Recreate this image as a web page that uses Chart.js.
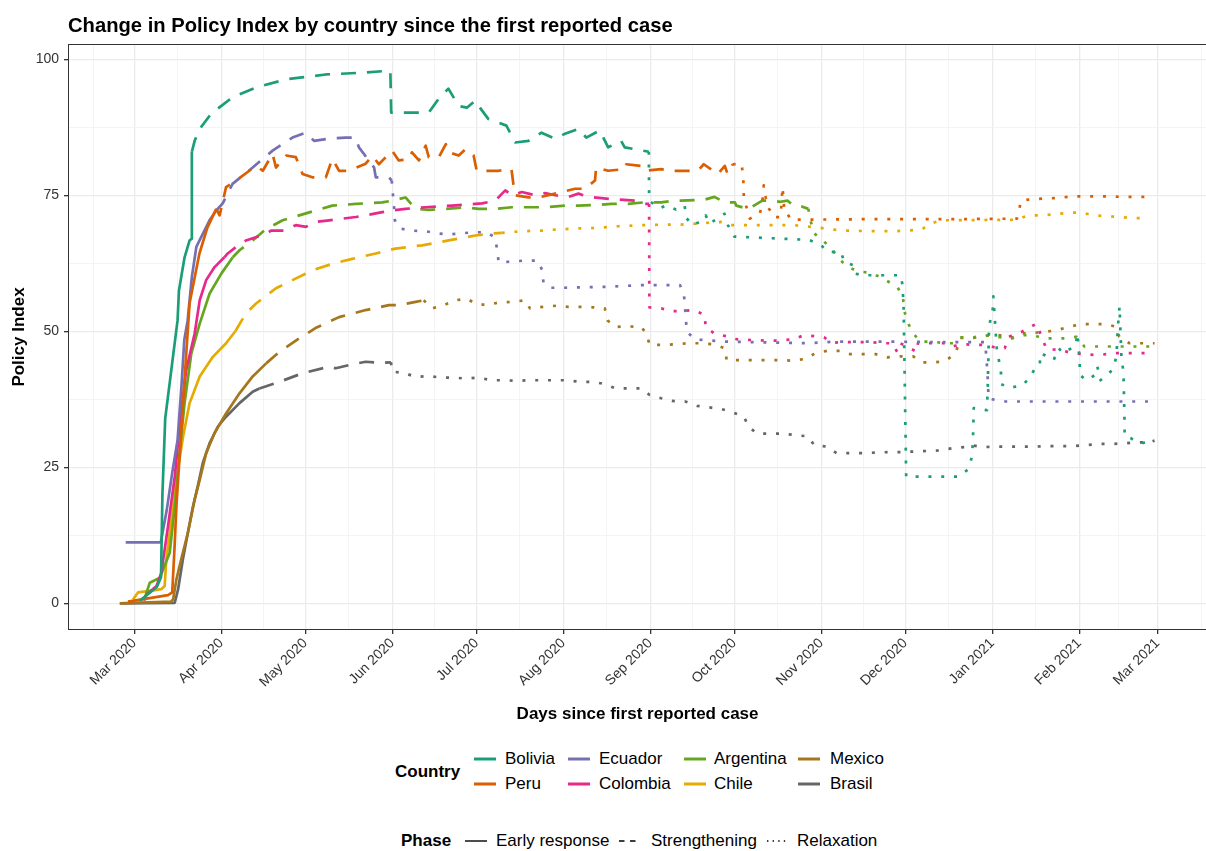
<!DOCTYPE html>
<html>
<head>
<meta charset="utf-8">
<title>Policy Index by country</title>
<script src="https://cdn.jsdelivr.net/npm/chart.js@4.4.1/dist/chart.umd.min.js"></script>
<style>
  html, body { margin: 0; padding: 0; background: #fff; overflow: hidden; }
  body { font-family: "Liberation Sans", Arial, Helvetica, sans-serif; color: #000; }
  #wrap { position: relative; width: 1206px; height: 851px; overflow: hidden; }
  #chart { position: absolute; left: 0; top: 0; }
  #title { position: absolute; left: 68px; top: 14.5px; font-size: 20.2px; line-height: 20px; font-weight: bold; white-space: nowrap; }
  .lg { position: absolute; font-size: 17px; line-height: 20px; white-space: nowrap; }
  .lg.b { font-weight: bold; }
  .key { position: absolute; }
</style>
</head>
<body>
<div id="wrap">
  <canvas id="chart" width="1214" height="740"></canvas>
  <div id="title">Change in Policy Index by country since the first reported case</div>
  <div id="legend"></div>
</div>
<script>
// ---- categories -------------------------------------------------------
const countries = ['Bolivia', 'Peru', 'Ecuador', 'Colombia', 'Argentina', 'Chile', 'Mexico', 'Brasil'];
const phases = ['Early response', 'Strengthening', 'Relaxation'];

// ---- x axis: days counted from 1 Mar 2020, ticks at the first of each month
const monthStartDays = [0, 31, 61, 92, 122, 153, 184, 214, 245, 275, 306, 337, 365];
const monthLabels = ['Mar 2020', 'Apr 2020', 'May 2020', 'Jun 2020', 'Jul 2020', 'Aug 2020',
  'Sep 2020', 'Oct 2020', 'Nov 2020', 'Dec 2020', 'Jan 2021', 'Feb 2021', 'Mar 2021'];
const monthMidDays = [-14.5, 15.5, 46, 76.5, 107, 137.5, 168.5, 199, 229.5, 260, 290.5, 321.5, 351, 380.5];

// ---- y axis
const yMajorTicks = [0, 25, 50, 75, 100];
const yMinorTicks = [12.5, 37.5, 62.5, 87.5];

// ---- series: [day, index] per country and phase -------------------------
const boliviaEarly = [[2,0.5],[8,3],[9.5,4.8],[10,20],[11,34],[13.2,43],[15.4,52],[15.9,57.5],[17.9,63.6],[19.7,66.7],[20.4,67],[20.5,83]];
const boliviaStrength = [[20.5,83],[21.5,85],[23.3,87.2],[27.4,90],[35,93],[43.4,94.8],[54,96.3],[68.3,97.2],[80.1,97.5],[91.3,97.9],[91.6,90.2],[105,90.2],[108.9,93],[112,94.6],[115.7,91.4],[118.6,91.1],[121.6,92.4],[122.8,91.4],[126.3,89],[132.7,87.8],[135.8,84.7],[140.6,85],[145.2,86.5],[150,85.4],[153.6,86.3],[158.4,87.2],[161.2,85.6],[166,86.9],[169,83.8],[173.6,85],[174.9,83.8],[183.5,83]];
const boliviaRelax = [[183.5,83],[183.6,74],[187.4,72.6],[189.6,73.1],[193.2,72.4],[196.3,73.1],[196.7,70.9],[199.2,69.5],[202.8,70.4],[203.8,71.3],[205.2,69.8],[210.5,71.6],[211.7,69.5],[214,67.4],[240.7,66.8],[245,65.8],[247.3,64.6],[252,64.6],[252.6,63.7],[253.2,62.8],[256.6,62.1],[257.2,60.6],[259.5,60.3],[273.3,60.3],[274,58.5],[274.4,54],[275.3,23.3],[294.2,23.3],[297.3,24.6],[298.7,26.8],[299.1,29.7],[299.4,35.9],[304.1,35.5],[304.4,39.8],[304.8,49.6],[305.2,51.7],[306.2,54.2],[306.4,56.4],[307.6,46.9],[309.1,42.6],[309.1,40.3],[312.3,39.6],[316.9,40.1],[319.7,41.7],[321.5,43.5],[322.9,43.8],[323.3,46],[327.9,44.7],[329.7,46.9],[331.1,46],[335.7,47.3],[336.4,49.6],[337.2,44.5],[337.2,42],[339.6,41],[342.8,42],[343.5,43.5],[344.6,41],[348.9,42.9],[350.3,45.3],[350.7,49.9],[351.4,54.6],[352.1,45],[352.8,42.6],[353.2,33.2],[353.2,30.7],[355.3,30.4],[357.4,29.7],[359.9,29.5],[362,29.7],[363.8,30]];

const peruEarly = [[-2.3,0.3],[6,1],[12,1.5],[13.5,2],[14.3,10],[15,18],[16.5,30],[18,42],[19.7,55.2],[23.2,64.3],[26,69],[29.2,72.5]];
const peruStrength = [[29.2,72.5],[30.4,71.3],[32.7,76.5],[36.3,77.7],[41,79.5],[43.4,80.4],[45.8,79.5],[49.3,82.6],[50.5,80.1],[54.1,82.3],[57.6,82],[60,78.9],[63.5,78.3],[68.3,78.3],[70.6,81.7],[73,79.5],[76.6,79.5],[82.5,80.8],[84.9,82.3],[87.2,80.7],[90.8,82.6],[91.9,83.2],[94.3,81.4],[97.9,81.6],[99,82.9],[101.5,81.4],[103.9,84.1],[105,82],[108.6,82],[111.1,84.4],[112.1,82.9],[115.7,82.3],[118.2,83.5],[121,82.3],[122.1,79.5],[129.9,79.5],[134.5,79.8],[135.2,77],[135.9,75],[140.6,74.6],[144.1,74.6],[150.1,75.3],[157.2,76.2],[160.7,76.2],[164.3,77.7],[164.7,80.1],[169,79.5],[174.9,79.8],[175.4,80.7],[180.8,80.4],[182,79.5],[187.9,79.8],[191.5,79.5],[197.6,79.5],[201,79.5],[203.1,80.7],[205.6,79.8],[208.1,78.9],[210.6,80.4],[211.6,78.9],[213.4,80.7]];
const peruRelax = [[213.4,80.7],[216.6,80.8],[217.2,78],[217.4,74.5],[219.5,70.7],[223,71.6],[223.8,72.8],[224.5,76.8],[225.2,74.6],[225.9,72.8],[227.3,71.9],[228,71],[230.5,71],[231.2,76.5],[231.9,71.9],[233,71.6],[234.1,70.5],[260,70.6],[290,70.6],[314.8,70.7],[315.4,71.6],[316.2,74],[320.4,74.3],[329.7,74.5],[334.3,74.8],[347.8,74.8],[352.4,74.7],[362,74.7]];

const ecuadorEarly = [[-3.1,11.2],[9.4,11.2],[11.5,17],[13.5,24],[15.4,30],[16.8,40],[17.8,48.4],[19,52],[20.5,60],[22.1,65.5],[26.8,70.4],[29.2,72.2]];
const ecuadorStrength = [[29.2,72.2],[31.5,73.5],[35,77.1],[42.2,80.1],[49.3,83.2],[56.4,85.6],[61.2,86.5],[64.1,85],[69.4,85.4],[75.4,85.6],[78.9,85.6],[80.1,83.8],[85.5,80.1],[86.1,78.3],[90.8,78.3],[91.8,77.7]];
const ecuadorRelax = [[91.8,77.7],[92.2,75.3],[92.6,73.1],[92.9,70.4],[94.7,68.9],[99,68.5],[103.6,68.4],[108.2,68],[111.8,67.8],[116.4,68],[121,68.2],[125.6,68.2],[128.5,67.3],[129.5,64.9],[129.9,62.7],[134.5,62.8],[139.1,63],[143.8,63],[145.5,61.2],[145.9,59],[148.4,58],[153,58],[170,58.2],[180.7,58.5],[185,58.5],[190,58.5],[194.6,58.5],[196,56.9],[196.4,54.6],[196.7,52.2],[197.1,49.9],[200,48.5],[211,48.1],[240,47.8],[250,48.1],[270,48.1],[290,48],[303.5,48],[304.3,42.3],[304.7,37.6],[310.8,37.1],[361.6,37.1]];

const colombiaEarly = [[3.5,0.5],[4.3,1.6],[7.9,3.2],[9.6,5.6],[12,14.2],[14.4,23.3],[16.1,32.5],[18.5,42.9],[21.5,49.6],[23.3,55.7],[25.6,59.4],[28.6,61.8],[32.1,63.6]];
const colombiaStrength = [[32.1,63.6],[33.3,64.3],[36.3,65.5],[39.8,66.7],[47,67.9],[48.7,68.5],[53.5,68.5],[57.6,69.5],[61.2,69.2],[64.7,70.1],[69.5,70.4],[74.2,70.7],[79,71],[82.5,71.3],[88.4,71.9],[91.9,72.2],[96.7,72.5],[103.8,72.8],[113.3,73.1],[121.6,73.4],[124,73.5],[128.7,74],[132.3,75.9],[134.6,75],[138.2,75.6],[143,75],[146.5,75.4],[150.1,75],[154.8,74.7],[158.4,75.3],[161.9,74.7],[170.2,74.3],[178.5,74],[182,73.4],[183.6,73.4]];
const colombiaRelax = [[183.6,73.4],[183.7,54.4],[188,54.2],[191.8,53.7],[195.1,53.7],[199.5,53.9],[203.4,53],[203.8,50.7],[206.9,49.6],[211.1,49.1],[215.2,48.5],[219.8,48.4],[224.7,48.3],[228.7,48.3],[234.8,48.5],[239,49.3],[246,48.9],[249,47.9],[252.5,48],[257.9,48],[263.2,48],[266.8,47.8],[270.3,47.8],[272.1,46.2],[273.2,47.8],[279.2,46.2],[279.5,47.8],[284.5,47.8],[289.5,47.8],[291.6,47.2],[295.2,47.6],[302.3,47.5],[305.8,47.2],[307.6,46.9],[310.5,46.9],[311.9,49],[316.5,49.9],[321.8,51.4],[323.6,49],[325.4,46.7],[330,46.6],[334.3,46],[343.2,45.6],[350.3,46],[363.5,46]];

const argentinaEarly = [[3.7,1],[5.5,3.8],[9.1,4.7],[12.6,9.3],[14.4,17.8],[16.1,27.6],[17.9,36.8],[20.3,45.9],[23.3,51.4],[26.8,56.9],[31,60.6],[35.1,63.6]];
const argentinaStrength = [[35.1,63.6],[37.5,64.9],[42.2,66.7],[47,68.8],[52.9,70.4],[58.8,71.3],[64.7,72.2],[70.6,73.1],[79,73.4],[88.4,73.7],[91.9,74],[94.3,74.3],[96.7,74.6],[100.3,72.5],[105,72.3],[110.9,72.5],[118,72.8],[122.8,72.5],[128.7,72.5],[134.6,72.8],[140.6,72.8],[146.5,72.8],[153.6,73.1],[158.4,73.1],[164.3,73.2],[170.2,73.4],[176.1,73.4],[182,73.7],[187.9,73.7],[192.7,74],[194.9,74],[203.4,74.2],[206.9,74.7],[210.6,73.7],[214.2,73.7],[214.7,73.1],[218.9,72.5],[220,72.8],[224,74],[227.6,74],[230.5,73.8],[233,74],[235.1,73.1],[238.3,72.9],[240.4,72.5]];
const argentinaRelax = [[240.4,72.5],[241.2,70.3],[242.5,68],[246,66.5],[249,65],[251,63.5],[254,62],[258,61],[262,60.8],[266,60],[269,59.1],[272.1,58.2],[274.2,56.3],[274.4,54.2],[275.6,52],[277.4,49.9],[280.3,48.1],[284.5,48.1],[289.2,47.8],[292.2,47.8],[294.5,48.9],[299.4,48.9],[302.3,49.1],[305.3,49.3],[308.7,48.9],[313,48.7],[317.1,49.3],[320.6,49.3],[324.2,48.7],[331.9,48.7],[336,49],[338.9,47.2],[351.9,47.2],[362,47.2]];

const chileEarly = [[-0.5,0.7],[1.3,2],[5.5,2.3],[9.6,2.6],[10.8,3.2],[11.4,8.1],[12.6,13],[13.8,18.5],[15.5,24.6],[17.4,30.7],[19.7,36.8],[23.3,41.7],[28,45.3],[32.7,47.8],[36,50]];
const chileStrength = [[36,50],[39.8,53.3],[43.4,55.1],[50.5,57.9],[56.4,59.4],[63.5,61.2],[70.6,62.4],[77.7,63.3],[86.1,64.3],[93.1,65.2],[102.6,65.8],[112.1,66.7],[121.6,67.6],[126.3,67.9],[131,68.1]];
const chileRelax = [[131,68.1],[138.2,68.4],[145.3,68.5],[150.1,68.7],[158.4,68.9],[165.4,69],[172.5,69.3],[180.8,69.5],[187.9,69.6],[194.9,69.6],[209.3,70.1],[212.8,69.5],[218.8,69.5],[227,69.5],[235.4,69.5],[244.8,69],[249,68.7],[253.7,68.5],[262.6,68.4],[272.1,68.4],[280.9,68.7],[283.8,69.8],[288.1,70.4],[314.8,70.5],[318.7,71.3],[323.3,71.3],[328.5,71.5],[333.1,71.8],[337.7,71.8],[342.4,71.3],[351.4,71],[355.6,70.8],[360.5,70.8]];

const mexicoEarly = [[-5.2,0],[13,0.3],[13.8,0.7],[15,4.4],[16.7,8.1],[19.1,13],[21.5,19.1],[23.3,22.7],[25.6,27.6],[28.6,31.3],[32.7,34.9],[37.5,38.6],[42.2,41.7],[47,44.1]];
const mexicoStrength = [[47,44.1],[51.7,46.2],[58.8,48.7],[65,50.7],[73,52.6],[82.5,53.9],[90.8,54.8],[94.3,54.8],[100.3,55.4],[103.2,55.7]];
const mexicoRelax = [[103.2,55.7],[106.2,54.2],[110.3,54.8],[114.5,55.7],[118.6,56],[121.6,55.1],[125.7,54.8],[129.9,55.3],[134.6,55.4],[139.4,55.7],[141.1,54.2],[145.9,54.5],[150.6,54.7],[154.8,54.5],[159.5,54.5],[163.7,54.4],[167.8,54.2],[168.8,52],[171.4,50.8],[176.1,50.9],[180.8,50.8],[182.6,49.6],[183.8,47.5],[188.5,47.5],[193,47.6],[197.5,47.8],[202.2,47.8],[206.9,47.6],[210.5,46.9],[211.3,44.7],[216.4,44.7],[220.9,44.7],[225.6,44.7],[230,44.7],[234.5,44.6],[239,44.9],[242.7,45.9],[247,46.4],[251.6,46.4],[255.3,45.8],[259.9,45.8],[264.4,45.8],[268.5,45.2],[273.3,45.4],[277.8,45.4],[281,44.3],[285.3,44.3],[289.1,44.5],[292.9,45.9],[294.6,48.8],[299.4,48.8],[302.3,49],[306.5,49.4],[311.1,49.1],[313,48.8],[316,49.6],[320.7,49.7],[324.8,49.9],[329,50.2],[333.2,50.8],[337.5,51.3],[342,51.3],[346.8,51.3],[350.3,50.8],[351.3,49],[355,47.8],[359.2,47.8],[363.9,47.8]];

const brasilEarly = [[-5.2,0],[14.4,0.1],[15.6,2.6],[17.3,8.1],[19.1,13],[20.9,17.8],[22.6,21.5],[24.4,25.8],[26.8,29.4],[29.8,32.5],[32.7,34.3],[37.5,36.8],[42.2,38.9],[44.6,39.5]];
const brasilStrength = [[44.6,39.5],[51.7,40.7],[60,42.3],[69.5,43.5],[71.8,43.2],[76.6,43.8],[82.5,44.4],[88.4,44.2],[91.5,44.3]];
const brasilRelax = [[91.5,44.3],[92,42.6],[96.5,42.3],[100.3,41.6],[104.8,41.8],[109.2,41.5],[113.9,41.5],[118.3,41.3],[122.8,41.5],[127.3,41],[131.7,41],[136.2,40.9],[140.9,41],[145.5,41],[150.1,41],[154.5,41],[158.9,40.7],[163.7,40.7],[167.8,40.3],[171.6,39.5],[176.1,39.5],[180.8,39.5],[183.8,38.3],[187.9,37.7],[191.8,37.2],[196.5,37.1],[200.7,36.3],[205.2,36],[209.5,35.7],[213.5,35.1],[217.4,34.3],[219.2,32.4],[222.1,31.2],[226.7,31.2],[231.2,31.2],[235.9,30.9],[240.1,30.7],[242.5,29.1],[247,28.8],[250.5,27.6],[254.9,27.6],[259.6,27.6],[264.4,27.7],[268.8,27.8],[273.5,27.8],[278,27.9],[282.5,28],[287.3,28.1],[291.7,28.5],[296,28.7],[299.4,29],[302.3,28.7],[307,28.8],[311.8,28.8],[316.3,28.8],[320.9,28.8],[325.4,28.9],[330.2,28.9],[334.7,28.9],[339.7,29.1],[344.4,29.3],[348.6,29.3],[353.2,29.4],[357.7,29.6],[362.1,29.6],[363.9,29.9]];

// ---- styles --------------------------------------------------------------
const countryColors = ['#1B9E77', '#D95F02', '#7570B3', '#E7298A', '#66A61E', '#E6AB02', '#A6761D', '#666666'];
const LINE_W = 2.7;
const phaseDash = [[], [15, 11], [3, 9.8]];
const FONT = '"Liberation Sans", Arial, Helvetica, sans-serif';
const TICK_TEXT = '#333333';

const seriesByCountry = [
  [boliviaEarly, boliviaStrength, boliviaRelax],
  [peruEarly, peruStrength, peruRelax],
  [ecuadorEarly, ecuadorStrength, ecuadorRelax],
  [colombiaEarly, colombiaStrength, colombiaRelax],
  [argentinaEarly, argentinaStrength, argentinaRelax],
  [chileEarly, chileStrength, chileRelax],
  [mexicoEarly, mexicoStrength, mexicoRelax],
  [brasilEarly, brasilStrength, brasilRelax]
];

const datasets = [];
countries.forEach((name, ci) => {
  seriesByCountry[ci].forEach((rows, pi) => {
    datasets.push({
      label: name + ' – ' + phases[pi],
      data: rows.map(([d, v]) => ({ x: d, y: v })),
      borderColor: countryColors[ci],
      backgroundColor: countryColors[ci],
      borderWidth: LINE_W,
      borderDash: phaseDash[pi],
      borderCapStyle: 'butt',
      borderJoinStyle: 'round',
      pointRadius: 0,
      pointHoverRadius: 0,
      fill: false,
      tension: 0
    });
  });
});

const xLabelAt = new Map(monthStartDays.map((d, i) => [d, monthLabels[i]]));
const xMajor = new Set(monthStartDays);
const xTickValues = [...monthStartDays, ...monthMidDays].sort((a, b) => a - b);
const yMajor = new Set(yMajorTicks);
const yTickValues = [...yMajorTicks, ...yMinorTicks].sort((a, b) => a - b);

// panel frame drawn over the data
const panelBorder = {
  id: 'panelBorder',
  afterDatasetsDraw(chart) {
    const { ctx, chartArea: a } = chart;
    ctx.save();
    ctx.strokeStyle = '#333333';
    ctx.lineWidth = 1;
    ctx.strokeRect(a.left + 0.5, a.top + 0.5, a.right - a.left - 1, a.bottom - a.top - 1);
    ctx.restore();
  }
};

new Chart(document.getElementById('chart'), {
  type: 'line',
  data: { datasets },
  plugins: [panelBorder],
  options: {
    responsive: false,
    animation: false,
    devicePixelRatio: 1,
    events: [],
    layout: { padding: { top: 44, right: 3, left: 0, bottom: 0 } },
    plugins: { legend: { display: false }, tooltip: { enabled: false }, title: { display: false } },
    scales: {
      x: {
        type: 'linear',
        min: -23.68,
        max: 382.65,
        afterBuildTicks: s => { s.ticks = xTickValues.map(v => ({ value: v })); },
        afterFit: s => { s.height = 110; },
        ticks: {
          autoSkip: false, minRotation: 45, maxRotation: 45, padding: 1,
          color: TICK_TEXT, font: { family: FONT, size: 14 },
          callback: v => xLabelAt.get(v) ?? ''
        },
        grid: {
          color: c => (xMajor.has(c.tick.value) ? '#EBEBEB' : '#F1F1F1'),
          lineWidth: c => (xMajor.has(c.tick.value) ? 1.3 : 0.8),
          tickColor: c => (xMajor.has(c.tick.value) ? '#333333' : 'rgba(0,0,0,0)'),
          tickLength: 4, drawTicks: true
        },
        border: { display: false },
        title: {
          display: true, text: 'Days since first reported case', color: '#000',
          font: { family: FONT, size: 17, weight: 'bold' }, padding: { top: 0, bottom: 15 }
        }
      },
      y: {
        type: 'linear',
        min: -4.9,
        max: 102.8,
        afterBuildTicks: s => { s.ticks = yTickValues.map(v => ({ value: v })); },
        afterFit: s => { s.width = 68; },
        ticks: {
          autoSkip: false, padding: 5, color: TICK_TEXT, font: { family: FONT, size: 14 },
          callback: v => (yMajor.has(v) ? String(v) : '')
        },
        grid: {
          color: c => (yMajor.has(c.tick.value) ? '#EBEBEB' : '#F1F1F1'),
          lineWidth: c => (yMajor.has(c.tick.value) ? 1.3 : 0.8),
          tickColor: c => (yMajor.has(c.tick.value) ? '#333333' : 'rgba(0,0,0,0)'),
          tickLength: 4, drawTicks: true
        },
        border: { display: false },
        title: {
          display: true, text: 'Policy Index', color: '#000',
          font: { family: FONT, size: 17, weight: 'bold' }, padding: { top: 9, bottom: 0 }
        }
      }
    }
  }
});

// ---- legends (HTML) -------------------------------------------------------
const legend = document.getElementById('legend');
function addText(text, left, centerY, bold) {
  const d = document.createElement('div');
  d.className = 'lg' + (bold ? ' b' : '');
  d.textContent = text;
  d.style.left = left + 'px';
  d.style.top = (centerY - 10) + 'px';
  legend.appendChild(d);
}
function addKey(left, centerY, width, color, lw, dash) {
  const ns = 'http://www.w3.org/2000/svg';
  const svg = document.createElementNS(ns, 'svg');
  svg.setAttribute('class', 'key');
  svg.setAttribute('width', width);
  svg.setAttribute('height', 8);
  svg.style.left = left + 'px';
  svg.style.top = (centerY - 4) + 'px';
  const ln = document.createElementNS(ns, 'line');
  ln.setAttribute('x1', 0); ln.setAttribute('x2', width);
  ln.setAttribute('y1', 4); ln.setAttribute('y2', 4);
  ln.setAttribute('stroke', color);
  ln.setAttribute('stroke-width', lw);
  if (dash) ln.setAttribute('stroke-dasharray', dash);
  svg.appendChild(ln);
  legend.appendChild(svg);
}

// country legend: four columns, two rows, filled column by column
const keyCols = [474, 568, 684, 798];
const textCols = [505, 599, 714, 830];
const rowsY = [759, 784];
addText('Country', 395, 772, true);
countries.forEach((name, i) => {
  const col = Math.floor(i / 2), row = i % 2;
  addKey(keyCols[col], rowsY[row], 22, countryColors[i], 3, null);
  addText(name, textCols[col], rowsY[row], false);
});

// phase legend: one row
const phaseKeyX = [465, 619, 767];
const phaseTextX = [496, 651, 797];
const phaseKeyDash = [null, '5.5 5.5', '1.4 4.2'];
const phaseY = 841;
addText('Phase', 401, phaseY, true);
phases.forEach((p, i) => {
  addKey(phaseKeyX[i], phaseY, 22, '#000', 1.4, phaseKeyDash[i]);
  addText(p, phaseTextX[i], phaseY, false);
});
</script>
</body>
</html>
